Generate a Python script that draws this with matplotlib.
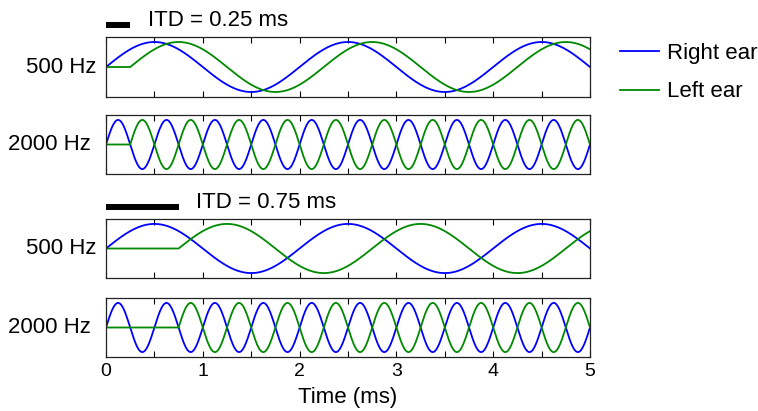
import numpy as np
import matplotlib.pyplot as plt
from matplotlib.lines import Line2D

plt.rcParams['font.family'] = ['Liberation Sans', 'DejaVu Sans']

# Daten
freqs_khz = [0.5, 2.0, 0.5, 2.0]          # Frequenz je Panel (kHz -> Zyklen pro ms)
freq_labels = ['500 Hz', '2000 Hz', '500 Hz', '2000 Hz']
itds_ms = [0.25, 0.25, 0.75, 0.75]        # ITD je Panel
itd_titles = ['ITD = 0.25 ms', 'ITD = 0.75 ms']
tick_pos = [0, 0.5, 1, 1.5, 2, 2.5, 3, 3.5, 4, 4.5, 5]
tick_labels = ['0', '', '1', '', '2', '', '3', '', '4', '', '5']

t = np.linspace(0, 5, 2001)
blue = '#0000ff'
green = '#008a00'

fig = plt.figure(figsize=(7.58, 4.11), dpi=100)
W, H = 758, 411
# Panel-Positionen in Pixeln (oben, unten)
x0, x1 = 106, 590
rows = [(37, 97), (115, 174), (219, 278), (298, 357)]
label_pad = [9, 15, 9, 15]

axes = []
for i, (top, bot) in enumerate(rows):
    ax = fig.add_axes([x0 / W, 1 - bot / H, (x1 - x0) / W, (bot - top) / H])
    f = freqs_khz[i]
    itd = itds_ms[i]
    right = np.sin(2 * np.pi * f * t)
    left = np.where(t >= itd, np.sin(2 * np.pi * f * (t - itd)), 0.0)
    ax.plot(t, right, color=blue, lw=1.3)
    ax.plot(t, left, color=green, lw=1.3)
    ax.set_xlim(0, 5)
    ax.set_ylim(-1.2, 1.2)
    ax.set_yticks([])
    ax.set_xticks(tick_pos)
    ax.tick_params(axis='x', direction='in', top=True, length=4.5, width=0.8,
                   labelsize=14, pad=4)
    if i < 3:
        ax.set_xticklabels([])
    else:
        ax.set_xticklabels(tick_labels)
        ax.set_xlabel('Time (ms)', fontsize=16, labelpad=5)
    ax.set_ylabel(freq_labels[i], rotation=0, ha='right', va='center', fontsize=16,
                  labelpad=label_pad[i] * 0.72)
    for sp in ax.spines.values():
        sp.set_linewidth(0.9)
        sp.set_color('#222222')
    axes.append(ax)

# Maßstabsbalken für ITD
for k, ax in enumerate([axes[0], axes[2]]):
    itd = itds_ms[2 * k]
    h = rows[2 * k][1] - rows[2 * k][0]
    trans = ax.get_xaxis_transform()
    ax.plot([0, itd], [1 + 12 / h, 1 + 12 / h], color='black', lw=4.3,
            solid_capstyle='butt', transform=trans, clip_on=False)
    ax.text(itd + 0.18, 1 + 16 / h, itd_titles[k], transform=trans, fontsize=16,
            ha='left', va='center')

# Legende
handles = [Line2D([], [], color=blue, lw=1.3), Line2D([], [], color=green, lw=1.3)]
fig.legend(handles, ['Right ear', 'Left ear'], loc='upper left',
           bbox_to_anchor=(620 / W, 1 - 43 / H), frameon=False, fontsize=16,
           handlelength=1.75, labelspacing=0.78, handletextpad=0.35,
           borderpad=0, borderaxespad=0)

fig.savefig('out.png', dpi=100)
